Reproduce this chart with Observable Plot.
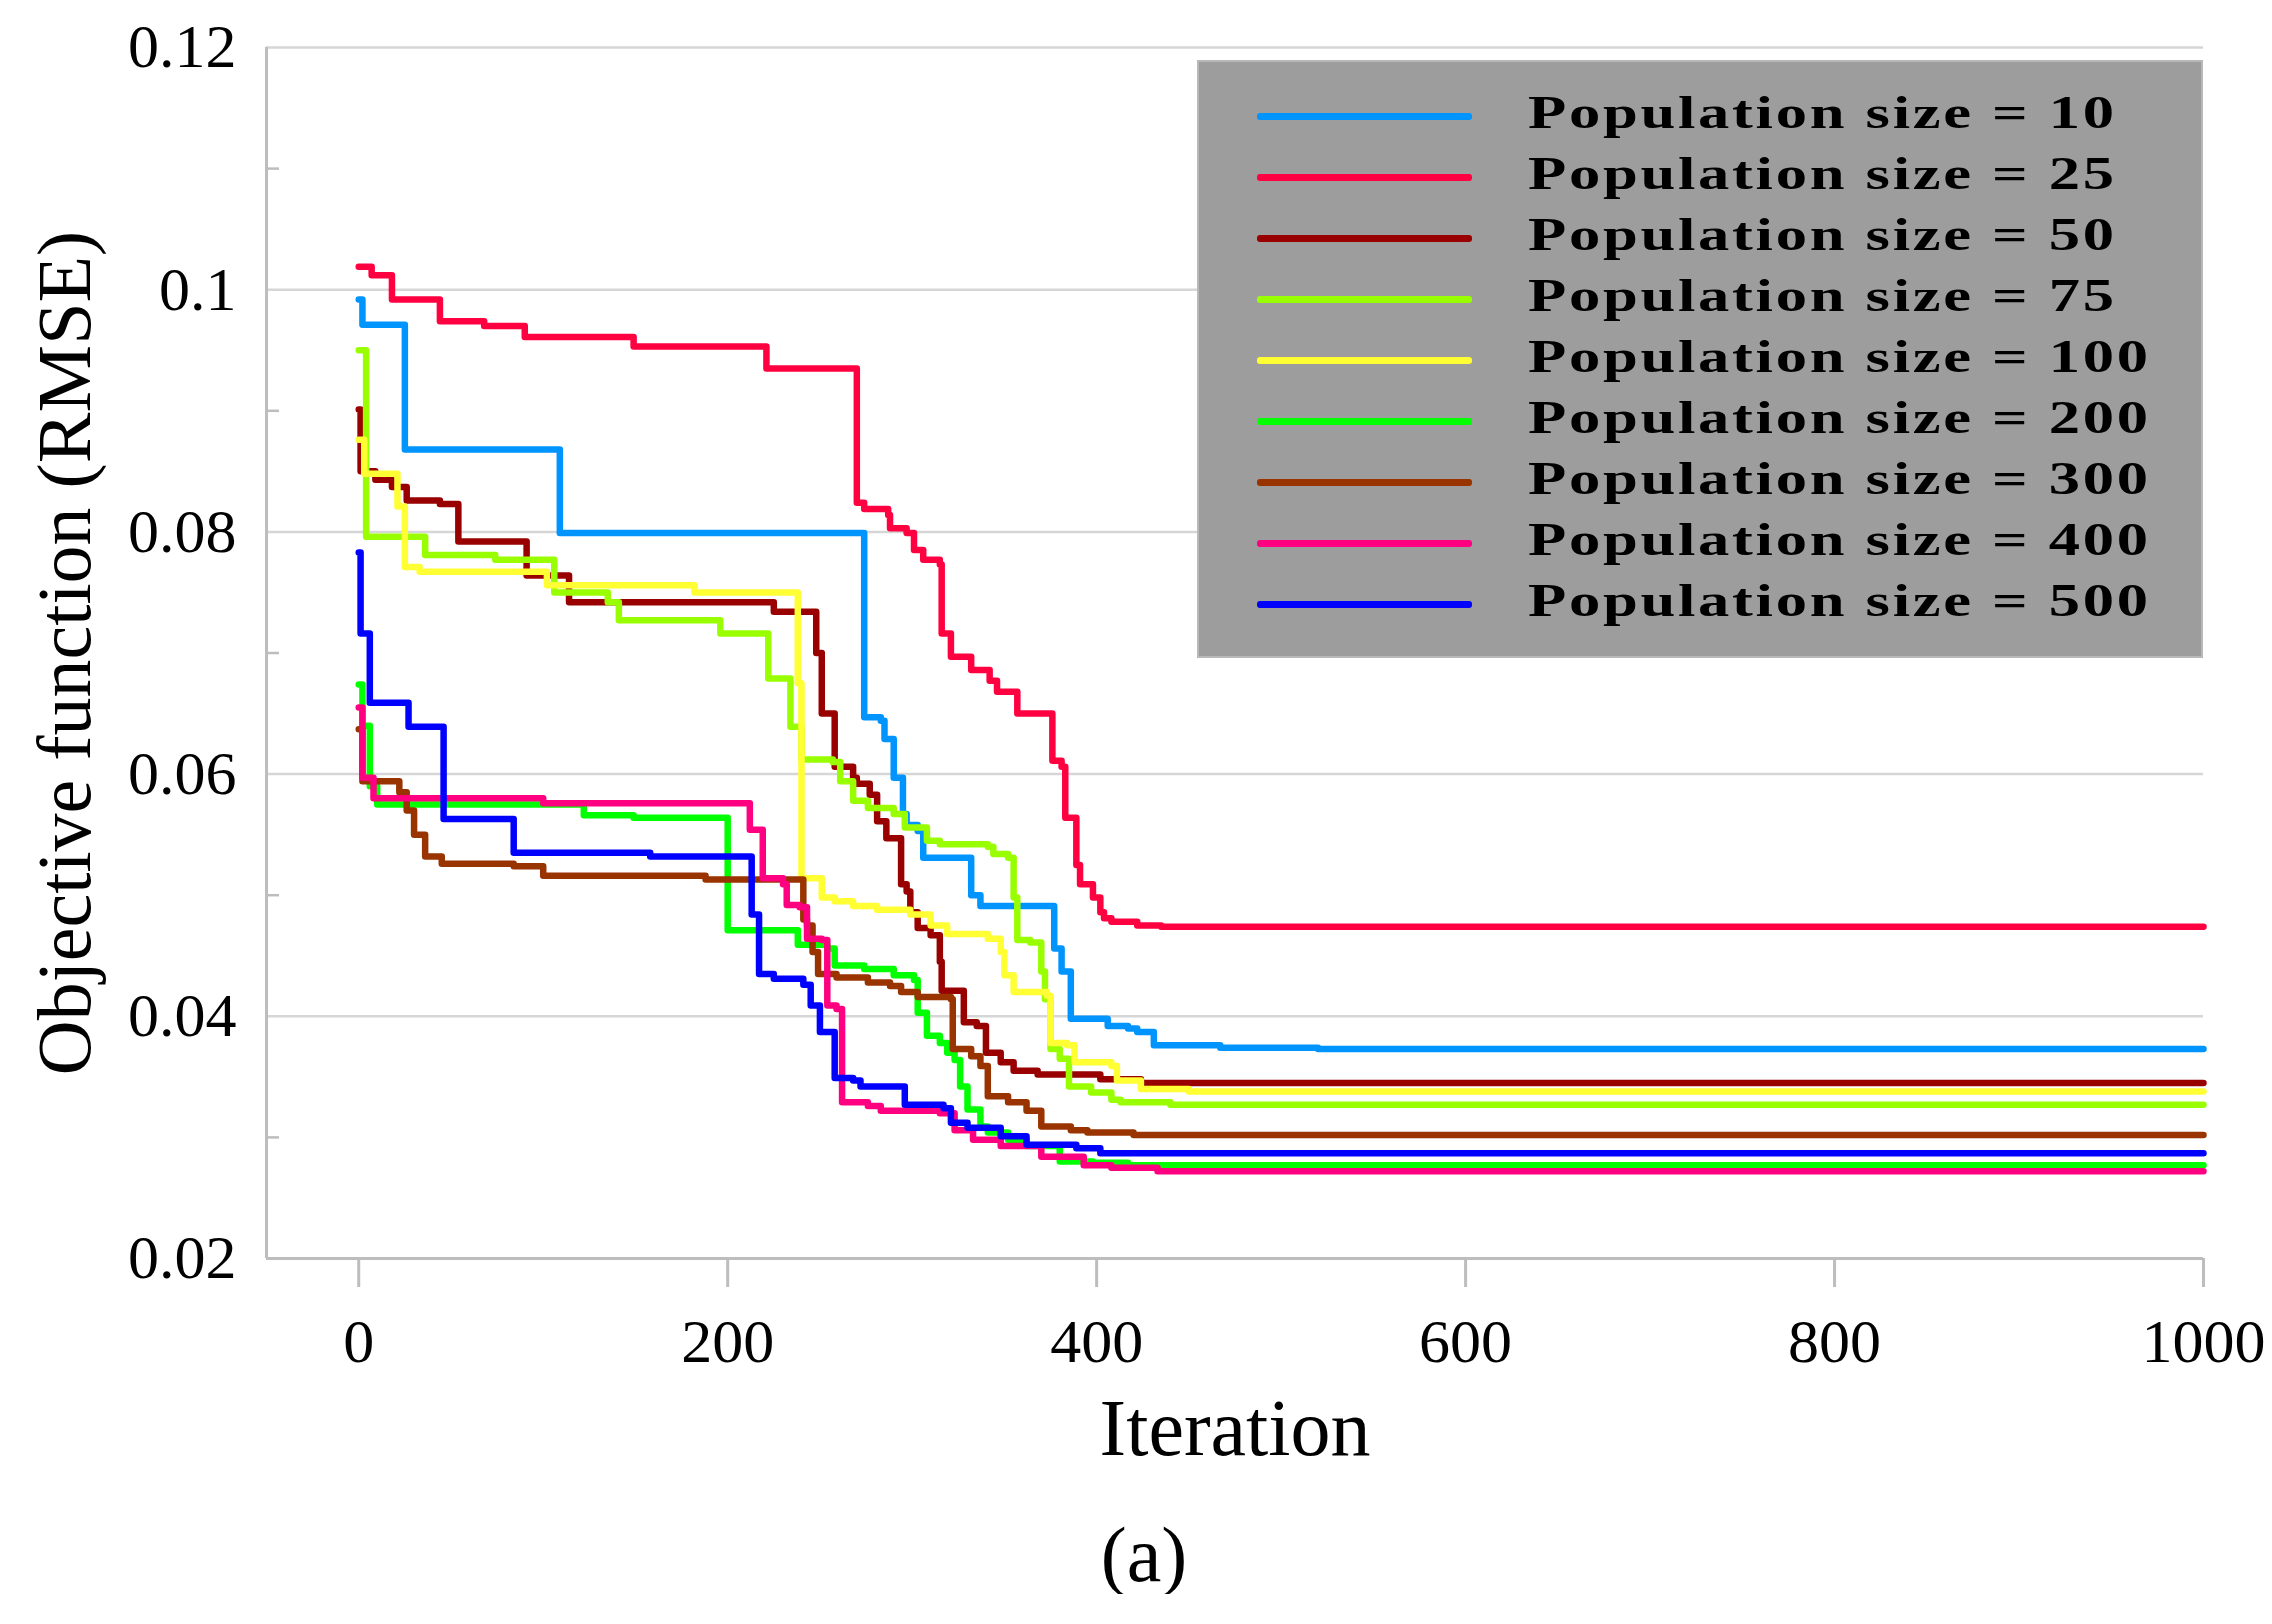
<!DOCTYPE html>
<html>
<head>
<meta charset="utf-8">
<script src="https://cdn.jsdelivr.net/npm/d3@7"></script>
<script src="https://cdn.jsdelivr.net/npm/@observablehq/plot@0.6"></script>
<style>
  body { margin: 0; background: white; }
  #wrap { position: relative; width: 2272px; }
  #legend { position: absolute; left: 1197px; top: 60px; width: 1006px; height: 598px;
            background: #9d9d9d; box-sizing: border-box; border: 2px solid #b8b8b8; }
  .row { position: absolute; left: 0; width: 100%; height: 61px; }
  .sw { position: absolute; left: 58px; top: 27px; width: 215px; height: 7px; border-radius: 3px; }
  .lab { position: absolute; left: 329px; top: 0; line-height: 61px; white-space: nowrap;
         font: bold 46px "Liberation Serif", serif; letter-spacing: 2px; color: #000;
         transform: scaleX(1.36); transform-origin: left center; }
  #caption { font: 78px "Liberation Serif", serif; text-align: center; line-height: 1;
             padding-top: 6px; padding-left: 8px; width: 2272px; }
</style>
</head>
<body>
<div id="wrap">
  <div id="chart"></div>
  <div id="legend"></div>
</div>
<div id="caption">(a)</div>
<script>
// Series: population sizes, line colours and the step breakpoints
const popSizes = [10, 25, 50, 75, 100, 200, 300, 400, 500];
const colors = ["#0094ff", "#ff0040", "#990000", "#99ff00", "#ffff33", "#00ff00", "#993300", "#ff0080", "#0000ff"];

const it10 = [0, 2, 25, 109, 274, 283, 285, 290, 295, 297, 303, 306, 332, 337, 377, 381, 386, 406, 417, 422, 431, 467, 520, 1000];
const v10 = [0.0992, 0.0971, 0.0868, 0.0799, 0.0647, 0.0644, 0.0629, 0.0597, 0.0567, 0.0558, 0.0553, 0.0531, 0.0500, 0.0491, 0.0456, 0.0437, 0.0398, 0.0392, 0.0390, 0.0387, 0.0376, 0.0374, 0.0373, 0.0373];

const it25 = [0, 7, 18, 44, 68, 90, 149, 221, 270, 274, 287, 288, 297, 301, 306, 315, 316, 321, 332, 342, 346, 357, 376, 381, 383, 389, 391, 398, 402, 404, 408, 422, 435, 1000];
const v25 = [0.1019, 0.1012, 0.0992, 0.0974, 0.0970, 0.0961, 0.0953, 0.0935, 0.0824, 0.0819, 0.0814, 0.0803, 0.0799, 0.0785, 0.0777, 0.0773, 0.0716, 0.0697, 0.0686, 0.0677, 0.0668, 0.0650, 0.0611, 0.0606, 0.0564, 0.0525, 0.0509, 0.0498, 0.0486, 0.0481, 0.0478, 0.0475, 0.0474, 0.0474];

const it50 = [0, 1, 9, 18, 26, 44, 54, 91, 114, 225, 248, 251, 258, 268, 270, 277, 281, 286, 294, 297, 299, 303, 310, 315, 316, 328, 335, 340, 348, 355, 368, 402, 424, 1000];
const v50 = [0.0901, 0.0850, 0.0843, 0.0837, 0.0826, 0.0823, 0.0792, 0.0764, 0.0742, 0.0734, 0.0700, 0.0650, 0.0606, 0.0597, 0.0592, 0.0583, 0.0561, 0.0547, 0.0509, 0.0503, 0.0486, 0.0473, 0.0467, 0.0445, 0.0421, 0.0395, 0.0392, 0.0370, 0.0362, 0.0355, 0.0352, 0.0348, 0.0345, 0.0345];

const it75 = [0, 4, 36, 74, 106, 135, 141, 196, 222, 234, 240, 257, 261, 268, 276, 290, 296, 308, 315, 341, 344, 352, 355, 357, 364, 370, 372, 375, 380, 385, 397, 408, 413, 440, 1000];
const v75 = [0.0950, 0.0796, 0.0781, 0.0777, 0.0750, 0.0742, 0.0727, 0.0716, 0.0679, 0.0639, 0.0612, 0.0610, 0.0594, 0.0578, 0.0572, 0.0567, 0.0556, 0.0545, 0.0542, 0.0540, 0.0534, 0.0531, 0.0498, 0.0463, 0.0461, 0.0437, 0.0414, 0.0373, 0.0365, 0.0342, 0.0337, 0.0331, 0.0329, 0.0327, 0.0327];

const it100 = [0, 3, 21, 25, 33, 102, 182, 238, 240, 251, 258, 268, 281, 299, 310, 319, 341, 348, 350, 355, 373, 375, 384, 388, 408, 411, 424, 450, 1000];
const v100 = [0.0876, 0.0848, 0.0821, 0.0771, 0.0767, 0.0756, 0.0750, 0.0675, 0.0514, 0.0498, 0.0495, 0.0491, 0.0488, 0.0484, 0.0475, 0.0468, 0.0464, 0.0453, 0.0434, 0.0420, 0.0417, 0.0378, 0.0376, 0.0362, 0.0359, 0.0347, 0.0340, 0.0338, 0.0338];

const it200 = [0, 2, 6, 10, 122, 149, 200, 238, 254, 258, 274, 290, 301, 303, 308, 315, 319, 323, 326, 330, 337, 341, 352, 362, 380, 398, 417, 1000];
const v200 = [0.0674, 0.0640, 0.0590, 0.0575, 0.0566, 0.0564, 0.0471, 0.0459, 0.0456, 0.0442, 0.0439, 0.0434, 0.0430, 0.0403, 0.0384, 0.0378, 0.0370, 0.0364, 0.0342, 0.0323, 0.0309, 0.0304, 0.0298, 0.0293, 0.0280, 0.0279, 0.0277, 0.0277];

const it300 = [0, 2, 22, 26, 30, 36, 45, 84, 100, 188, 241, 243, 246, 249, 259, 276, 288, 294, 303, 321, 322, 332, 337, 341, 352, 362, 370, 386, 395, 420, 1000];
const v300 = [0.0637, 0.0594, 0.0585, 0.0570, 0.0550, 0.0532, 0.0526, 0.0524, 0.0516, 0.0513, 0.0480, 0.0475, 0.0453, 0.0435, 0.0432, 0.0428, 0.0425, 0.0420, 0.0416, 0.0414, 0.0373, 0.0367, 0.0359, 0.0334, 0.0329, 0.0322, 0.0309, 0.0306, 0.0304, 0.0302, 0.0302];

const it400 = [0, 2, 8, 100, 212, 219, 230, 232, 239, 243, 251, 254, 259, 262, 276, 283, 315, 323, 333, 348, 370, 393, 408, 433, 1000];
const v400 = [0.0655, 0.0597, 0.0580, 0.0576, 0.0554, 0.0514, 0.0509, 0.0492, 0.0490, 0.0464, 0.0463, 0.0409, 0.0406, 0.0329, 0.0326, 0.0322, 0.0320, 0.0306, 0.0298, 0.0293, 0.0284, 0.0277, 0.0275, 0.0272, 0.0272];

const it500 = [0, 1, 6, 27, 46, 84, 158, 213, 217, 225, 241, 245, 250, 258, 268, 272, 296, 317, 321, 330, 348, 362, 389, 402, 1000];
const v500 = [0.0783, 0.0716, 0.0659, 0.0639, 0.0563, 0.0535, 0.0532, 0.0484, 0.0435, 0.0431, 0.0426, 0.0409, 0.0387, 0.0349, 0.0347, 0.0342, 0.0327, 0.0324, 0.0312, 0.0308, 0.0301, 0.0294, 0.0291, 0.0287, 0.0287];

// Axis ticks
const xTicks = [0, 200, 400, 600, 800, 1000];
const yTicks = [0.02, 0.04, 0.06, 0.08, 0.1, 0.12];
const yMinor = [0.03, 0.05, 0.07, 0.09, 0.11];

const iterSets = [it10, it25, it50, it75, it100, it200, it300, it400, it500];
const valueSets = [v10, v25, v50, v75, v100, v200, v300, v400, v500];
const labels = popSizes.map(p => `Population size = ${p}`);

// Flatten into rows for Plot
const rows = [];
iterSets.forEach((its, i) => {
    its.forEach((it, j) => {
        rows.push({series: labels[i], iter: it, rmse: valueSets[i][j]});
    });
});

const serif = "'Liberation Serif', 'Times New Roman', serif";
const axisGray = "#bdbdbd";

const plot = Plot.plot({
    width: 2272,
    height: 1510,
    marginLeft: 266,
    marginRight: 69,
    marginTop: 47,
    marginBottom: 252,
    style: {fontFamily: serif, background: "white", color: "black"},
    x: {domain: [-50, 1000]},
    y: {domain: [0.02, 0.12]},
    color: {domain: labels, range: colors},
    marks: [
        Plot.gridY(yTicks.slice(1), {stroke: "#d6d6d6", strokeOpacity: 1, strokeWidth: 2.5}),
        Plot.ruleY([0.02], {stroke: axisGray, strokeWidth: 3}),
        Plot.ruleX([-50], {stroke: axisGray, strokeWidth: 3}),
        // y labels
        Plot.axisY({
            ticks: yTicks,
            tickSize: 0,
            tickPadding: 30,
            tickFormat: d => String(+d.toFixed(2)),
            fontSize: 62,
            fill: "black",
            label: null,
        }),
        // small inward minor ticks on the y axis
        Plot.axisY({
            ticks: yMinor,
            tickSize: 13,
            dx: 13,
            tickFormat: () => "",
            stroke: axisGray,
            strokeWidth: 2.5,
            label: null,
        }),
        Plot.axisX({
            ticks: xTicks,
            tickSize: 29,
            tickPadding: 30,
            tickFormat: d => String(d),
            fontSize: 62,
            stroke: axisGray,
            strokeWidth: 3,
            fill: "black",
            label: null,
        }),
        Plot.text(["Objective function (RMSE)"], {
            frameAnchor: "left",
            textAnchor: "middle",
            dx: -201,
            rotate: -90,
            fontSize: 76,
            fill: "black",
            text: d => d,
        }),
        Plot.text(["Iteration"], {
            frameAnchor: "bottom",
            textAnchor: "middle",
            dy: 196,
            fontSize: 80,
            fill: "black",
            text: d => d,
        }),
        Plot.line(rows, {
            x: "iter",
            y: "rmse",
            z: "series",
            stroke: "series",
            curve: "step-after",
            strokeWidth: 6.5,
            strokeLinejoin: "round",
        }),
    ],
});

document.getElementById("chart").appendChild(plot);

// Legend box inside the plot area
const legend = document.getElementById("legend");
labels.forEach((lab, i) => {
    const row = document.createElement("div");
    row.className = "row";
    row.style.top = (23.5 + 61 * i) + "px";
    const sw = document.createElement("div");
    sw.className = "sw";
    sw.style.background = colors[i];
    const tx = document.createElement("div");
    tx.className = "lab";
    tx.textContent = lab;
    row.appendChild(sw);
    row.appendChild(tx);
    legend.appendChild(row);
});
</script>
</body>
</html>
